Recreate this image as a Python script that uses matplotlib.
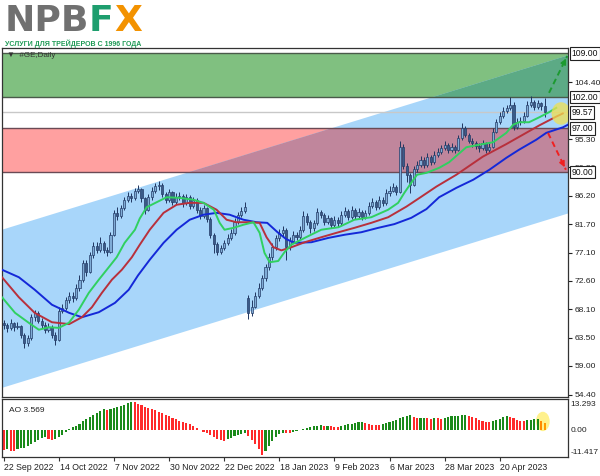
import numpy as np
import matplotlib.pyplot as plt
import matplotlib.transforms as mtransforms
from matplotlib.patches import Ellipse

plt.rcParams['font.family'] = ['Liberation Sans', 'DejaVu Sans']

# daily candles #GE, 22 Sep 2022 .. early May 2023
closes = [65.5, 65.0, 65.8, 65.2, 65.4, 64.0, 62.6, 63.4, 66.8, 67.5,
          66.2, 65.5, 64.8, 65.2, 64.0, 63.2, 67.8, 68.3, 69.5, 70.2,
          69.8, 71.5, 72.8, 75.5, 74.0, 76.8, 78.2, 77.5, 78.6, 77.6,
          77.2, 80.0, 83.5, 83.0, 84.2, 85.6, 86.2, 85.8, 87.0, 87.3,
          85.8, 84.0, 86.0, 87.0, 87.8, 88.0, 86.5, 85.5, 86.8, 85.2,
          86.0, 86.2, 85.0, 86.0, 84.6, 85.5, 84.0, 83.0, 84.2, 82.5,
          80.0, 78.5, 77.2, 77.8, 78.6, 79.5, 80.2, 82.0, 83.2, 83.8,
          84.5, 67.5, 68.5, 70.2, 71.5, 73.0, 74.8, 76.5, 78.0, 79.5,
          80.2, 80.8, 78.0, 79.0, 80.0, 79.6, 80.8, 83.0, 82.0, 81.0,
          81.8, 83.6, 83.2, 82.0, 82.6, 81.6, 82.4, 81.8, 83.2, 83.8,
          82.8, 84.0, 83.0, 83.6, 82.8, 83.4, 84.6, 85.2, 84.4, 85.6,
          85.0, 86.6, 87.0, 87.6, 86.8, 94.0, 91.0, 89.5, 88.0, 90.5,
          91.2, 92.0, 91.2, 92.5, 91.6, 92.8, 93.2, 93.8, 94.4, 93.6,
          94.0, 93.6, 95.5, 97.0, 96.0, 95.0, 94.6, 94.2, 93.8, 94.6,
          93.5, 94.0, 96.5, 98.0, 99.0, 99.8, 100.2, 100.8, 97.2, 98.0,
          98.2, 99.0, 100.8, 101.2, 100.4, 101.0, 100.6, 99.6]
highs = [66.4, 65.9, 66.5, 66.0, 66.0, 65.6, 64.3, 64.0, 67.3, 68.0,
         67.8, 66.6, 66.0, 65.8, 65.5, 64.5, 68.4, 68.9, 70.1, 70.8,
         70.9, 72.1, 73.5, 76.0, 76.0, 77.3, 78.8, 78.9, 79.6, 79.0,
         78.0, 80.5, 84.0, 84.4, 84.8, 86.1, 86.8, 86.7, 87.5, 87.9,
         87.5, 86.0, 86.5, 87.6, 88.3, 88.6, 88.2, 86.9, 87.3, 87.0,
         86.6, 86.9, 86.5, 86.5, 86.3, 86.0, 85.8, 84.4, 84.8, 84.5,
         82.8, 80.3, 78.9, 78.4, 79.2, 80.1, 80.9, 82.6, 83.7, 84.4,
         85.2, 70.3, 69.6, 70.8, 72.2, 73.6, 75.3, 77.1, 78.6, 80.0,
         80.9, 81.4, 81.0, 79.6, 80.6, 80.4, 81.4, 83.8, 83.4, 82.3,
         82.4, 84.2, 84.0, 83.5, 83.2, 82.9, 83.0, 82.8, 83.8, 84.5,
         84.1, 84.6, 84.3, 84.2, 83.9, 84.0, 85.2, 85.8, 85.5, 86.2,
         86.0, 87.3, 87.8, 88.2, 88.0, 95.0, 94.5, 91.4, 89.9, 91.0,
         91.8, 92.6, 92.4, 93.1, 92.8, 93.4, 93.8, 94.4, 95.0, 94.7,
         94.6, 94.4, 96.0, 97.8, 97.4, 96.3, 95.4, 95.0, 94.6, 95.1,
         94.9, 94.6, 97.0, 98.5, 99.6, 100.4, 100.8, 102.0, 101.2, 98.6,
         98.9, 99.6, 101.4, 102.2, 101.6, 101.6, 101.3, 101.8]
lows = [64.9, 64.5, 64.8, 64.6, 64.9, 63.5, 61.9, 62.2, 63.2, 66.2,
        65.8, 65.0, 64.2, 64.4, 63.5, 62.4, 63.0, 67.4, 68.0, 69.0,
        69.3, 69.5, 71.0, 72.5, 73.4, 73.8, 76.3, 77.0, 77.2, 77.1,
        76.6, 77.0, 79.8, 82.4, 82.7, 84.0, 85.2, 85.3, 85.6, 86.6,
        85.3, 83.3, 83.8, 85.6, 86.7, 87.2, 86.0, 85.0, 85.2, 84.7,
        84.9, 85.6, 84.5, 84.7, 84.1, 84.3, 83.5, 82.5, 82.7, 82.0,
        79.5, 77.0, 76.8, 76.9, 77.5, 78.3, 79.2, 80.0, 81.7, 82.9,
        83.5, 66.5, 67.0, 68.2, 69.9, 71.2, 72.6, 74.4, 76.0, 77.6,
        79.0, 79.8, 76.0, 77.6, 78.7, 79.1, 79.3, 80.5, 81.5, 80.3,
        80.6, 81.5, 82.7, 81.5, 81.7, 81.1, 81.3, 81.3, 81.5, 82.9,
        82.4, 82.5, 82.5, 82.7, 82.3, 82.5, 83.1, 84.2, 84.0, 84.1,
        84.6, 84.8, 86.2, 86.8, 86.4, 86.6, 90.5, 88.4, 86.6, 87.8,
        90.1, 90.8, 90.7, 90.9, 91.1, 91.3, 92.4, 92.9, 93.5, 93.1,
        93.2, 93.0, 93.4, 95.2, 95.6, 94.6, 94.1, 93.7, 93.3, 93.5,
        93.0, 93.1, 93.8, 96.2, 97.7, 98.7, 99.4, 100.0, 96.8, 96.9,
        97.6, 97.9, 98.8, 100.4, 99.9, 100.1, 100.0, 98.8]
opens = [65.8] + closes[:-1]
opens[71] = 69.8  # gap on the spin-off day

# alligator lines (bar, price)
jaw_bar = [-0.5, 4.4, 9, 14, 19, 22.7, 27.6, 32.3, 36.3, 39, 42.4, 46.4, 50.2, 54,
           58, 61.8, 65.6, 69.6, 73.4, 76.5, 79.5, 82, 84.5, 89.3, 94.3, 99, 103.8,
           108.7, 113.4, 118.3, 122.7, 126.4, 131.4, 136.3, 141, 145.9, 149.6,
           154.6, 157.5, 162.4, 163.8]
jaw_val = [74.4, 73.2, 71.2, 68.8, 67.5, 66.8, 67.6, 69.1, 71.2, 73.5, 76.0, 78.7,
           80.8, 82.4, 83.2, 83.5, 83.2, 82.4, 82.0, 81.9, 80.4, 79.3, 78.7, 78.8,
           79.5, 80.0, 80.4, 81.1, 81.7, 82.7, 84.1, 86.0, 87.5, 88.8, 90.4, 92.3,
           93.6, 95.2, 96.3, 97.2, 97.6]
teeth_bar = [-0.5, 4.4, 9, 14, 19, 22.7, 25.6, 28.5, 31.4, 34.3, 37.2, 39.5, 42.4,
             46.4, 50.2, 54, 58, 61.8, 64.7, 67.6, 71.4, 74.3, 76.3, 78.3, 80.6,
             83.5, 87.4, 92.2, 97.2, 101.8, 106.7, 111.6, 116.9, 121, 125.6,
             131.4, 139.1, 145.9, 150.7, 155.5, 160.4, 162.3]
teeth_val = [73.2, 70.0, 67.5, 66.0, 65.7, 66.8, 68.4, 70.7, 72.8, 74.4, 76.4, 78.4,
             80.8, 83.5, 84.8, 85.1, 85.1, 84.0, 82.4, 82.0, 82.0, 81.9, 79.6, 78.0,
             77.5, 78.0, 78.8, 79.6, 80.4, 81.1, 81.9, 82.8, 84.5, 86.0, 87.7, 89.6,
             92.5, 94.5, 96.0, 97.5, 98.9, 99.4]
lips_bar = [-0.5, 3.3, 7.3, 10.2, 13.1, 16, 18.9, 21.8, 24.7, 27.6, 30.5, 32.8, 35.1,
            38.1, 39.5, 41.5, 44.4, 47.3, 51, 55.1, 58, 61, 62.7, 64.1, 66.7, 69.6,
            72.5, 74.3, 75.7, 77.2, 79.7, 81.5, 83.5, 87.4, 92.2, 97.2, 101.8, 106.7,
            111.6, 114.5, 116.3, 118.3, 120, 122.7, 126.4, 129.3, 132.2, 134.3, 138,
            142.1, 145.9, 147.9, 149.6, 152.5, 155.5, 158.3, 160.4]
lips_val = [70.0, 67.5, 65.9, 64.8, 65.2, 65.1, 65.9, 68.0, 70.7, 72.8, 74.8, 76.4,
            78.7, 80.8, 82.6, 84.4, 85.2, 86.0, 85.9, 85.6, 85.1, 84.0, 81.9, 80.8,
            81.1, 81.6, 82.0, 80.3, 77.1, 75.6, 75.8, 77.2, 78.4, 79.5, 80.8, 81.2,
            82.4, 82.8, 84.0, 85.1, 86.7, 88.3, 89.6, 89.9, 90.7, 91.6, 93.0, 94.0,
            94.4, 94.8, 96.3, 97.6, 98.0, 98.0, 98.8, 99.6, 100.3]

# awesome oscillator
ao = [-9.0, -8.8, -9.3, -9.4, -8.6, -8.3, -7.9, -7.0, -6.2, -5.3,
      -4.5, -3.6, -2.8, -3.9, -4.2, -3.9, -3.0, -1.9, -0.6, 0.5,
      1.5, 2.3, 3.2, 4.2, 5.3, 6.4, 7.4, 8.3, 9.2, 9.8,
      9.6, 10.0, 10.4, 10.8, 11.3, 12.0, 12.8, 13.293, 13.0, 12.3,
      11.7, 11.0, 10.4, 9.9, 9.4, 8.8, 8.2, 7.4, 6.6, 5.8,
      5.2, 4.6, 4.0, 3.4, 2.8, 2.0, 1.2, 0.4, -0.5, -1.3,
      -2.1, -3.0, -3.9, -4.6, -5.0, -4.0, -3.3, -2.7, -2.2, -1.7,
      -1.3, -2.4, -4.2, -6.2, -8.4, -11.417, -9.3, -7.0, -4.8, -2.9,
      -1.6, -1.0, -1.2, -1.3, -0.8, -0.4, 0.2, 0.8, 1.2, 1.6,
      1.9, 2.2, 2.4, 2.1, 2.3, 2.0, 1.8, 1.7, 2.0, 2.4,
      2.8, 3.2, 3.6, 3.9, 4.1, 3.6, 3.1, 2.7, 2.5, 2.4,
      2.8, 3.3, 3.8, 4.4, 5.0, 5.8, 6.4, 6.8, 7.1, 6.2,
      5.6, 5.7, 5.9, 5.7, 5.5, 5.8, 5.7, 5.5, 5.9, 6.2,
      6.5, 6.7, 6.9, 7.0, 7.1, 6.8, 6.3, 5.7, 5.0, 4.4,
      4.0, 3.9, 4.2, 4.8, 5.5, 6.1, 6.5, 6.3, 5.6, 5.0,
      4.6, 4.5, 4.8, 5.1, 5.3, 5.4, 4.6, 3.569]

date_bars = [0, 16, 32, 48, 64, 80, 96, 112, 128, 144]
date_labels = ['22 Sep 2022', '14 Oct 2022', '7 Nov 2022', '30 Nov 2022', '22 Dec 2022',
               '18 Jan 2023', '9 Feb 2023', '6 Mar 2023', '28 Mar 2023', '20 Apr 2023']
price_ticks = [54.40, 59.00, 63.50, 68.10, 72.60, 77.10, 81.70, 86.20, 90.80, 95.30, 104.40]
level_prices = [109.00, 102.00, 99.57, 97.00, 90.00]
buy_zone = [102.0, 109.0]
sell_zone = [90.0, 97.0]
channel_bars = [-0.5, 163.8]
channel_top = [80.9, 108.8]
channel_bottom = [55.6, 83.5]
up_arrow = [(158.3, 102.7), (163.6, 108.6)]
down_arrow = [(158.0, 96.3), (163.2, 90.4)]

n = len(closes)
bars = np.arange(n)

fig = plt.figure(figsize=(6, 4.76), dpi=100)
ax = fig.add_axes([0.0033, 0.166, 0.9433, 0.7332])
ax2 = fig.add_axes([0.0033, 0.0399, 0.9433, 0.1218], sharex=ax)

# zones + channel
xs = np.linspace(channel_bars[0], channel_bars[1], 400)
ch_lo = np.interp(xs, channel_bars, channel_bottom)
ch_hi = np.interp(xs, channel_bars, channel_top)
ax.axhspan(sell_zone[0], sell_zone[1], color='#ffa0a0', lw=0, zorder=0.5)
ax.axhspan(buy_zone[0], buy_zone[1], color='#80c080', lw=0, zorder=0.5)
ax.fill_between(xs, ch_lo, ch_hi, color='#a8d6fa', lw=0, zorder=0.6)
for zone, col in [(sell_zone, '#c0869c'), (buy_zone, '#5caa85')]:
    lo = np.maximum(ch_lo, zone[0])
    hi = np.minimum(ch_hi, zone[1])
    ax.fill_between(xs, lo, hi, where=hi > lo, interpolate=True, color=col, lw=0, zorder=0.7)

for p in level_prices:
    if p == 99.57:
        ax.axhline(p, color='#c8c8c8', lw=1.0, zorder=0.8)
    else:
        ax.axhline(p, color='#4a5a4a' if p > 100 else '#6a4a55', lw=1.0, zorder=0.8)

# candles
o = np.array(opens)
c = np.array(closes)
up = c >= o
ax.vlines(bars, lows, highs, color='#1f3560', lw=0.7, zorder=3)
body_lo = np.minimum(o, c)
body_h = np.maximum(np.abs(c - o), 0.15)
ax.bar(bars[up], body_h[up], bottom=body_lo[up], width=0.6, color='#80acd6',
       edgecolor='#243c68', linewidth=0.5, zorder=3.1)
ax.bar(bars[~up], body_h[~up], bottom=body_lo[~up], width=0.6, color='#3a5b88',
       edgecolor='#243c68', linewidth=0.5, zorder=3.1)

# alligator
ax.plot(jaw_bar, jaw_val, color='#1428d8', lw=1.4, zorder=4)
ax.plot(teeth_bar, teeth_val, color='#b8303c', lw=1.4, zorder=4)
ax.plot(lips_bar, lips_val, color='#30d060', lw=1.4, zorder=4)

ax.add_patch(Ellipse((161.8, 99.4), 5.5, 3.6, color='#f0e050', alpha=0.75, lw=0, zorder=5))

# scenario arrows
for (p0, p1), col in [(up_arrow, '#1c9a30'), (down_arrow, '#f02020')]:
    ax.plot([p0[0], p1[0]], [p0[1], p1[1]], color=col, lw=1.4, ls=(0, (3, 2)), zorder=6)
    ax.annotate('', xy=p1, xytext=(p1[0] - (p1[0] - p0[0]) * 0.2, p1[1] - (p1[1] - p0[1]) * 0.2),
                arrowprops=dict(arrowstyle='-|>', color=col, lw=1.2, mutation_scale=8), zorder=6)

ax.set_xlim(-0.5, 163.8)
ax.set_ylim(54.04, 109.88)
ax.yaxis.tick_right()
ax.set_yticks(price_ticks)
ax.set_yticklabels(['%.2f' % t for t in price_ticks])
ax.tick_params(axis='y', labelsize=6.1, length=3, pad=1.5, colors='#222222')
ax.tick_params(axis='x', bottom=False, labelbottom=False)
for s in ax.spines.values():
    s.set_color('#333333')
    s.set_linewidth(0.9)

trans = mtransforms.blended_transform_factory(ax.transAxes, ax.transData)
for p in level_prices:
    ax.text(1.006, p, '%.2f' % p, transform=trans, fontsize=6.2, va='center', ha='left',
            color='#111111', zorder=10, clip_on=False,
            bbox=dict(boxstyle='square,pad=0.2', fc='white', ec='#222222', lw=0.8))

ax.text(0.008, 0.988, '\u25bc  #GE,Daily', transform=ax.transAxes, fontsize=5.8,
        va='top', ha='left', color='#333333', zorder=10)

# AO panel
ao = np.array(ao)
cols = ['#ff2a2a'] + ['#1a8a1a' if ao[i] > ao[i - 1] else '#ff2a2a' for i in range(1, n)]
cols[-1] = '#ff9a00'
cols[-2] = '#ff8a00' if cols[-2] == '#ff2a2a' else cols[-2]
ax2.add_patch(Ellipse((156.5, 4.2), 4.0, 9.0, color='#fff080', alpha=0.9, lw=0, zorder=0.5))
ax2.bar(bars, ao, width=0.6, color=cols, zorder=2)
ax2.set_ylim(-12.3, 14.6)
ax2.set_yticks([])
ax2.set_xticks(date_bars)
ax2.set_xticklabels([])
ax2.tick_params(axis='x', length=3, direction='out', color='#333333')
for s in ax2.spines.values():
    s.set_color('#333333')
    s.set_linewidth(0.9)
ax2.text(0.012, 0.86, 'AO 3.569', transform=ax2.transAxes, fontsize=6.0,
         va='top', ha='left', color='#222222')
for val, frac in [('13.293', 0.90), ('0.00', None), ('-11.417', 0.08)]:
    if frac is None:
        ax2.text(1.005, 0.0, val, transform=mtransforms.blended_transform_factory(ax2.transAxes, ax2.transData),
                 fontsize=6.0, va='center', ha='left', color='#222222')
    else:
        ax2.text(1.005, frac, val, transform=ax2.transAxes, fontsize=6.0,
                 va='center', ha='left', color='#222222')
dtrans = mtransforms.blended_transform_factory(ax2.transData, ax2.transAxes)
for b, lab in zip(date_bars, date_labels):
    ax2.text(b + 0.2, -0.1, lab, transform=dtrans, fontsize=6.3, va='top', ha='left',
             color='#222222', clip_on=False)

# logo
fig.text(0.008, 0.934, 'NPB', fontsize=26, fontweight='bold', color='#707070', va='baseline',
         family='DejaVu Sans')
fig.text(0.148, 0.934, 'F', fontsize=26, fontweight='bold', color='#1e9e6e', va='baseline',
         family='DejaVu Sans')
fig.text(0.190, 0.934, 'X', fontsize=26, fontweight='bold', color='#f39200', va='baseline',
         family='DejaVu Sans')
fig.text(0.008, 0.903, '\u0423\u0421\u041b\u0423\u0413\u0418 \u0414\u041b\u042f \u0422\u0420\u0415\u0419\u0414\u0415\u0420\u041e\u0412 \u0421 1996 \u0413\u041e\u0414\u0410',
         fontsize=5.0, fontweight='bold', color='#1e9a55', va='baseline',
         family=['Liberation Sans Narrow', 'Liberation Sans', 'DejaVu Sans'])

fig.savefig('out.png', dpi=100, facecolor='white')
